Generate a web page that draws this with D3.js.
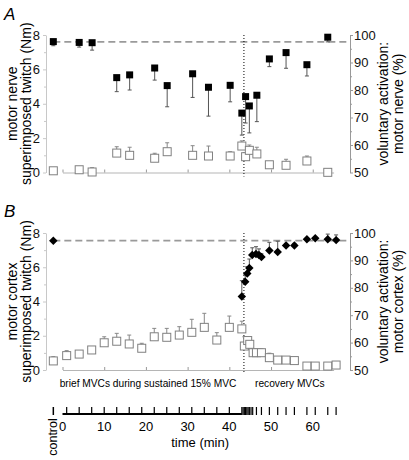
<!DOCTYPE html>
<html><head><meta charset="utf-8">
<script src="https://cdn.jsdelivr.net/npm/d3@7"></script>
<style>
html,body{margin:0;padding:0;background:#fff;}
svg{display:block;font-family:"Liberation Sans",Arial,Helvetica,sans-serif;}
</style></head>
<body><svg id="c" width="409" height="460"></svg>
<script>
// ---------- data ----------
const timeTickLabels = [0, 10, 20, 30, 40, 50, 60];
const leftTicks = [0, 1, 2, 3, 4, 5, 6, 7, 8];
const rightTicks = [50, 55, 60, 65, 70, 75, 80, 85, 90, 95, 100];

// Panel A: motor nerve
const tA = [-2.2, 4, 7.1, 13, 16.1, 22.1, 25.1, 31.2, 35, 40.2, 43, 43.9, 44.8, 46.6, 49.6, 53.6, 58.6, 63.6];
const vaNerve = [97.6, 97.3, 97.2, 84.5, 85.5, 88, 81.6, 85.9, 81, 81.7, 71.6, 77.6, 74.2, 78.1, 91.3, 93.6, 89.2, 99.2];
const vaNerveErr = [1.5, 1.7, 2.7, 5.1, 5.5, 4.4, 7.7, 8.6, 10.5, 6, 8, 9.6, 9.8, 9.6, 2.8, 5.7, 4.1, 1.7];
const twitchNerve = [0.1, 0.16, 0.03, 1.13, 1.0, 0.83, 1.21, 1.0, 0.96, 0.96, 1.54, 0.92, 1.29, 1.08, 0.45, 0.42, 0.67, 0.01];
const twitchNerveErr = [0, 0, 0.25, 0.37, 0.47, 0.29, 0.52, 0.56, 0.58, 0.25, 0.3, 0.2, 0.31, 0.39, 0.1, 0.35, 0.29, 0];
const refNerve = 97.5;

// Panel B: motor cortex
const tBva = [-2.2, 43, 43.8, 44.3, 44.8, 45.5, 46.4, 47.1, 47.7, 49.6, 51.6, 53.6, 55.6, 58.6, 60.6, 63.6, 65.6];
const vaCortex = [97.2, 76.8, 82.2, 85.2, 87.2, 92, 92.3, 92, 91.2, 93.6, 93.1, 95.4, 95.4, 97.7, 98.1, 97.7, 97.4];
const vaCortexErr = [0, 5.8, 2.5, 2.5, 3.3, 2.6, 2.7, 2.2, 1.2, 3.0, 3.9, 0.8, 0.8, 0.4, 0.4, 1.9, 1.9];
const tBtw = [-2.2, 1, 4, 7, 10, 13, 16, 19, 22, 25, 28, 31, 34, 37, 40, 43, 43.6, 44.4, 44.9, 45.7, 46.5, 47.7, 49.6, 51.6, 53.6, 55.6, 58.6, 60.6, 63.6, 65.6];
const twitchCortex = [0.53, 0.84, 0.93, 1.17, 1.59, 1.68, 1.52, 1.27, 1.94, 1.91, 2.04, 2.2, 2.49, 1.75, 2.49, 2.4, 1.4, 1.72, 1.5, 1.01, 1.01, 1.01, 0.72, 0.58, 0.58, 0.55, 0.23, 0.23, 0.23, 0.29];
const twitchCortexErr = [0.25, 0.29, 0.15, 0.1, 0.35, 0.46, 0.52, 0.29, 0.49, 0.52, 0.49, 0.76, 0.82, 0.43, 0.66, 0.45, 0.54, 0.2, 0.33, 0.1, 0.1, 0.23, 0.26, 0.1, 0.1, 0.1, 0, 0, 0, 0.05];
const refCortex = 97.2;

// Timeline of MVCs
const controlTime = -2.2;
const mvcTimes = [1, 4, 7, 10, 13, 16, 19, 22, 25, 28, 31, 34, 37, 40, 43, 43.3, 43.6, 43.9, 44.2, 44.5, 44.8, 45.2, 45.6, 46.5, 47.7, 49.6, 51.6, 53.6, 55.6, 58.6, 60.6, 63.6, 65.6];
const sustainedEnd = 43;
const fatigueEndLine = 43.5;

// ---------- drawing ----------
const svg = d3.select("#c");
const FONT = '"Liberation Sans",Arial,Helvetica,sans-serif';
const x = d3.scaleLinear().domain([0, 65]).range([62.5, 333.6]);
const leftX = 46, rightX = 350;

function panel(cfg) {
  const g = svg.append("g");
  const yL = d3.scaleLinear().domain([0, 8]).range([cfg.y0, cfg.y1]);
  const yR = d3.scaleLinear().domain([50, 100]).range([cfg.y0, cfg.y1]);

  // left axis
  const la = g.append("g").attr("transform", `translate(${leftX},0)`)
    .call(d3.axisLeft(yL).tickValues(leftTicks).tickSizeInner(3).tickSizeOuter(0).tickPadding(3)
      .tickFormat(d => d % 2 === 0 ? d : ""));
  la.select(".domain").attr("stroke", "#c8c8c8");
  la.selectAll(".tick line").attr("stroke", "#c8c8c8").attr("x2", d => d % 2 === 0 ? -3 : -2);
  la.selectAll("text").attr("font-size", 13).attr("font-family", FONT).attr("fill", "#111");

  // right axis
  const ra = g.append("g").attr("transform", `translate(${rightX},0)`)
    .call(d3.axisRight(yR).tickValues(rightTicks).tickSizeInner(3).tickSizeOuter(0).tickPadding(1)
      .tickFormat(d => d % 10 === 0 ? d : ""));
  ra.select(".domain").attr("stroke", "#999");
  ra.selectAll(".tick line").attr("stroke", "#999").attr("x2", d => d % 10 === 0 ? 3 : 2);
  ra.selectAll("text").attr("font-size", 13).attr("font-family", FONT).attr("fill", "#111");

  // bottom time axis
  const ba = g.append("g").attr("transform", `translate(0,${cfg.y0})`)
    .call(d3.axisBottom(x).tickValues(timeTickLabels).tickSizeInner(-3).tickSizeOuter(0).tickFormat(""));
  ba.select(".domain").attr("stroke", "#b5b5b5").attr("stroke-width", 1.2);
  ba.selectAll(".tick line").attr("stroke", "#999");

  // reference dashed line
  g.append("line").attr("x1", x(controlTime)).attr("x2", rightX)
    .attr("y1", yR(cfg.ref)).attr("y2", yR(cfg.ref))
    .attr("stroke", "#9a9a9a").attr("stroke-width", 1.6).attr("stroke-dasharray", "7,4");

  // dotted vertical line (end of sustained contraction)
  g.append("line").attr("x1", x(fatigueEndLine)).attr("x2", x(fatigueEndLine))
    .attr("y1", cfg.y1).attr("y2", cfg.y0 + 4)
    .attr("stroke", "#000").attr("stroke-width", 1).attr("stroke-dasharray", "1,2");

  // open squares: twitch (left axis), error bars upward
  const tw = cfg.tTw.map((t, i) => ({t, v: cfg.tw[i], e: cfg.twErr[i]}));
  const eg = g.append("g").attr("stroke", "#888").attr("stroke-width", 1).attr("fill", "none");
  tw.filter(d => d.e > 0).forEach(d => {
    eg.append("line").attr("x1", x(d.t)).attr("x2", x(d.t)).attr("y1", yL(d.v)).attr("y2", yL(d.v + d.e));
    eg.append("line").attr("x1", x(d.t) - 2).attr("x2", x(d.t) + 2).attr("y1", yL(d.v + d.e)).attr("y2", yL(d.v + d.e));
  });
  g.append("g").selectAll("rect").data(tw).join("rect")
    .attr("x", d => x(d.t) - 4).attr("y", d => yL(d.v) - 4).attr("width", 8).attr("height", 8)
    .attr("fill", "#fff").attr("stroke", "#808080").attr("stroke-width", 1);

  // filled markers: voluntary activation (right axis)
  const va = cfg.tVa.map((t, i) => ({t, v: cfg.va[i], e: cfg.vaErr[i]}));
  const fg = g.append("g").attr("stroke", "#555").attr("stroke-width", 1).attr("fill", "none");
  va.filter(d => d.e > 0).forEach(d => {
    const end = d.v + cfg.errDir * d.e;
    fg.append("line").attr("x1", x(d.t)).attr("x2", x(d.t)).attr("y1", yR(d.v)).attr("y2", yR(end));
    fg.append("line").attr("x1", x(d.t) - 2).attr("x2", x(d.t) + 2).attr("y1", yR(end)).attr("y2", yR(end));
  });
  if (cfg.shape === "square") {
    g.append("g").selectAll("rect").data(va).join("rect")
      .attr("x", d => x(d.t) - 3.5).attr("y", d => yR(d.v) - 3.5).attr("width", 7).attr("height", 7)
      .attr("fill", "#000");
  } else {
    const sym = d3.symbol().type(d3.symbolSquare).size(36);
    g.append("g").selectAll("path").data(va).join("path")
      .attr("d", sym)
      .attr("transform", d => `translate(${x(d.t)},${yR(d.v)}) rotate(45)`)
      .attr("fill", "#000");
  }

  // panel letter
  g.append("text").attr("x", 4).attr("y", cfg.letterY).text(cfg.letter)
    .attr("font-size", 17).attr("font-style", "italic").attr("font-family", FONT);

  // left titles
  const cy = (cfg.y0 + cfg.y1) / 2;
  g.append("text").attr("transform", `translate(17,${cy}) rotate(-90)`).attr("text-anchor", "middle")
    .attr("font-size", 14).attr("font-family", FONT).text(cfg.leftTitle);
  g.append("text").attr("transform", `translate(31,${cy}) rotate(-90)`).attr("text-anchor", "middle")
    .attr("font-size", 14).attr("font-family", FONT).text("superimposed twitch (Nm)");
  // right titles
  g.append("text").attr("transform", `translate(388,${cy}) rotate(-90)`).attr("text-anchor", "middle")
    .attr("font-size", 14).attr("font-family", FONT).text("voluntary activation:");
  g.append("text").attr("transform", `translate(403,${cy}) rotate(-90)`).attr("text-anchor", "middle")
    .attr("font-size", 14).attr("font-family", FONT).text(cfg.rightTitle);
}

panel({y0: 172.5, y1: 35, ref: refNerve, tTw: tA, tw: twitchNerve, twErr: twitchNerveErr,
  tVa: tA, va: vaNerve, vaErr: vaNerveErr, errDir: -1, shape: "square",
  letter: "A", letterY: 20, leftTitle: "motor nerve", rightTitle: "motor nerve (%)"});
panel({y0: 370, y1: 233, ref: refCortex, tTw: tBtw, tw: twitchCortex, twErr: twitchCortexErr,
  tVa: tBva, va: vaCortex, vaErr: vaCortexErr, errDir: 1, shape: "diamond",
  letter: "B", letterY: 217, leftTitle: "motor cortex", rightTitle: "motor cortex (%)"});

// phase labels
svg.append("text").attr("x", x(20.5)).attr("y", 387).attr("text-anchor", "middle")
  .attr("font-size", 10.2).attr("font-family", FONT).text("brief MVCs during sustained 15% MVC");
svg.append("text").attr("x", x(54.5)).attr("y", 387).attr("text-anchor", "middle")
  .attr("font-size", 10.2).attr("font-family", FONT).text("recovery MVCs");

// timeline
const tl = svg.append("g");
const baseY = 414;
tl.append("line").attr("x1", x(0)).attr("x2", x(sustainedEnd)).attr("y1", baseY).attr("y2", baseY)
  .attr("stroke", "#000").attr("stroke-width", 2);
tl.selectAll("line.mvc").data(mvcTimes).join("line").attr("class", "mvc")
  .attr("x1", d => x(d)).attr("x2", d => x(d)).attr("y1", baseY - 7).attr("y2", baseY + 1)
  .attr("stroke", "#000").attr("stroke-width", 1.2);
tl.append("line").attr("x1", x(controlTime)).attr("x2", x(controlTime)).attr("y1", baseY - 7).attr("y2", baseY + 1)
  .attr("stroke", "#000").attr("stroke-width", 1.5);
tl.selectAll("text.tl").data(timeTickLabels).join("text").attr("class", "tl")
  .attr("x", d => x(d)).attr("y", 431).attr("text-anchor", "middle")
  .attr("font-size", 13).attr("font-family", FONT).text(d => d);
tl.append("text").attr("x", x(33)).attr("y", 447).attr("text-anchor", "middle")
  .attr("font-size", 13).attr("font-family", FONT).text("time (min)");
tl.append("text").attr("transform", `translate(${x(controlTime) + 4},437) rotate(-90)`).attr("text-anchor", "middle")
  .attr("font-size", 12.5).attr("font-family", FONT).text("control");
</script></body></html>
